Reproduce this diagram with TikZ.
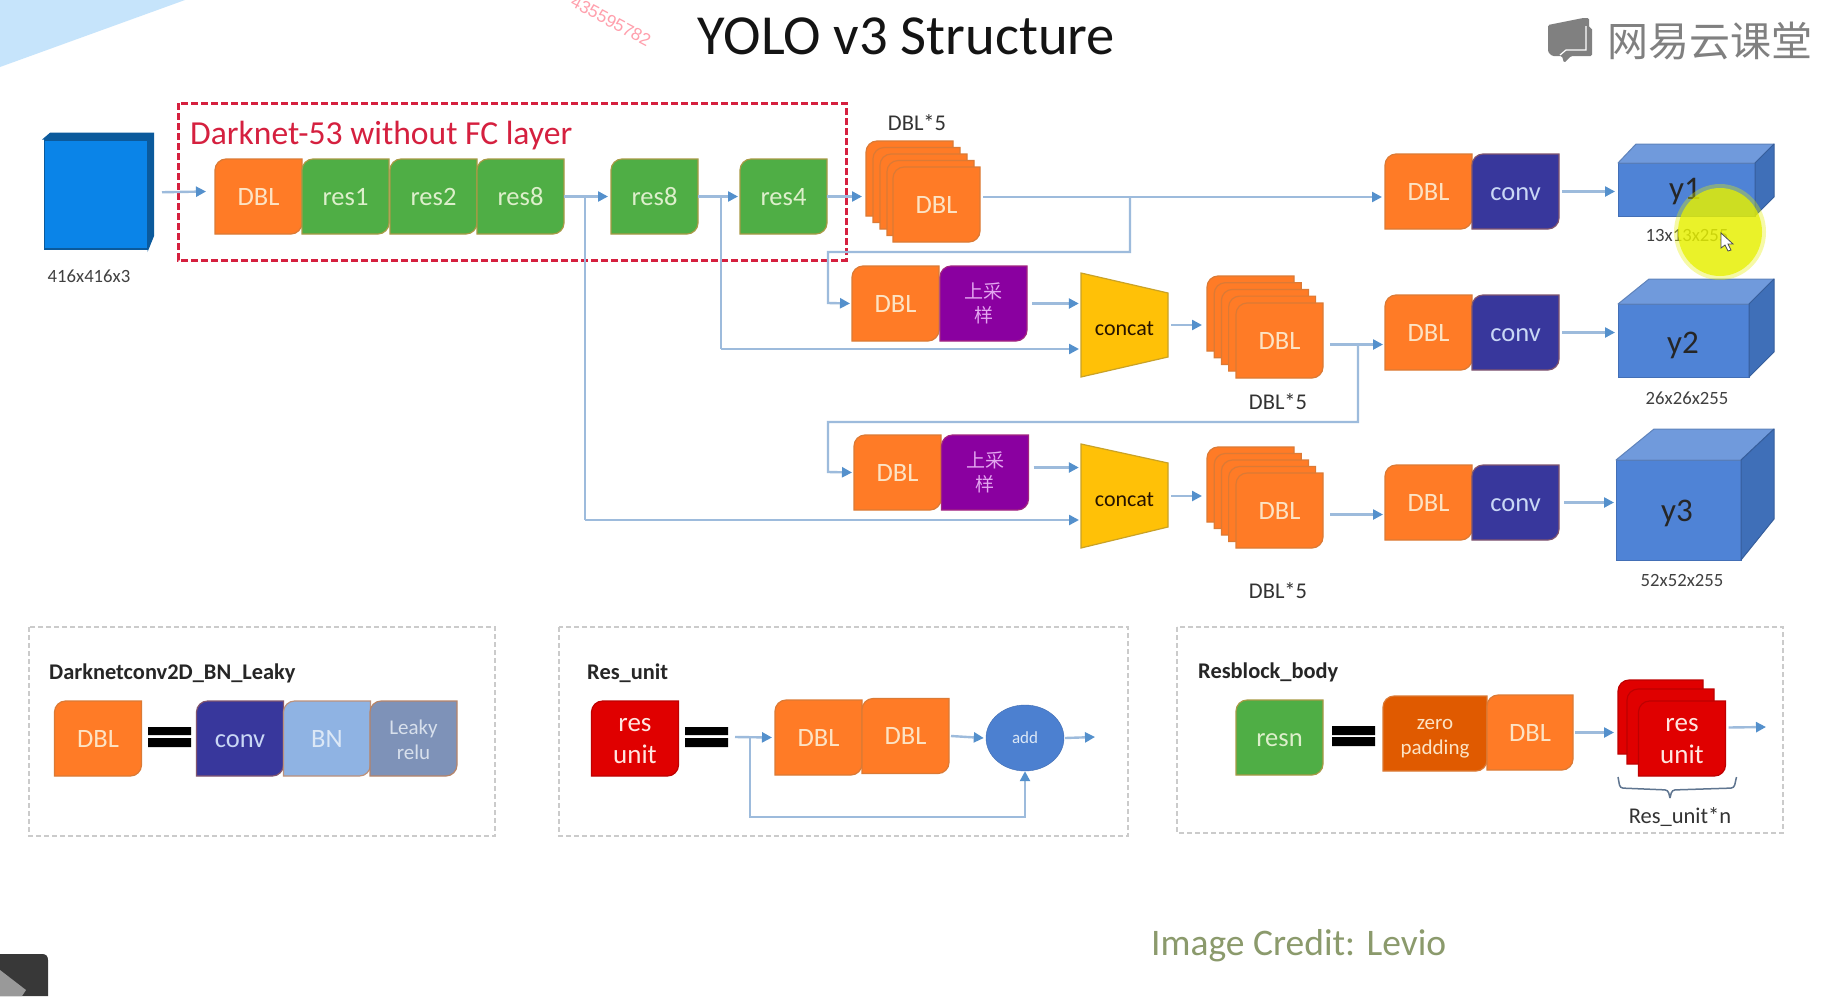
\documentclass[tikz,border=0pt]{standalone}
\usepackage{fontspec}
\setmainfont{Carlito}
\newfontfamily\cjk{Noto Sans CJK SC}
\newfontfamily\wmfont{Liberation Sans}
\usetikzlibrary{arrows.meta,calc,shapes.geometric}
\makeatletter
\pgfdeclareshape{snipbox}{
  \inheritsavedanchors[from=rectangle]
  \inheritanchorborder[from=rectangle]
  \inheritanchor[from=rectangle]{center}
  \inheritanchor[from=rectangle]{north}
  \inheritanchor[from=rectangle]{south}
  \inheritanchor[from=rectangle]{east}
  \inheritanchor[from=rectangle]{west}
  \inheritanchor[from=rectangle]{north east}
  \inheritanchor[from=rectangle]{north west}
  \inheritanchor[from=rectangle]{south east}
  \inheritanchor[from=rectangle]{south west}
  \backgroundpath{
    \southwest \edef\snipxa{\the\pgf@x}\edef\snipya{\the\pgf@y}
    \northeast \edef\snipxb{\the\pgf@x}\edef\snipyb{\the\pgf@y}
    \def\snipr{11pt}\def\snipk{5pt}
    \pgfpathmoveto{\pgfqpoint{\snipxa}{\snipya}}
    \pgfpathlineto{\pgfqpoint{\snipxa}{\dimexpr\snipyb-\snipr\relax}}
    \pgfpathcurveto{\pgfqpoint{\snipxa}{\dimexpr\snipyb-\snipk\relax}}{\pgfqpoint{\dimexpr\snipxa+\snipk\relax}{\snipyb}}{\pgfqpoint{\dimexpr\snipxa+\snipr\relax}{\snipyb}}
    \pgfpathlineto{\pgfqpoint{\snipxb}{\snipyb}}
    \pgfpathlineto{\pgfqpoint{\snipxb}{\dimexpr\snipya+\snipr\relax}}
    \pgfpathcurveto{\pgfqpoint{\snipxb}{\dimexpr\snipya+\snipk\relax}}{\pgfqpoint{\dimexpr\snipxb-\snipk\relax}{\snipya}}{\pgfqpoint{\dimexpr\snipxb-\snipr\relax}{\snipya}}
    \pgfpathclose
  }
}
\makeatother
\definecolor{cOrange}{HTML}{FF7B26}
\definecolor{cOrangeB}{HTML}{DB7A35}
\definecolor{cGreen}{HTML}{4FAE45}
\definecolor{cGreenB}{HTML}{A89A45}
\definecolor{cNavy}{HTML}{38379C}
\definecolor{cBN}{HTML}{8FB3E3}
\definecolor{cLeaky}{HTML}{7E92B8}
\definecolor{cPurple}{HTML}{8A00A0}
\definecolor{cRed}{HTML}{E00000}
\definecolor{cZero}{HTML}{E05A00}
\definecolor{cLine}{HTML}{9DBBDC}
\definecolor{cTip}{HTML}{5490CC}
\definecolor{tCream}{HTML}{FCE3C4}
\definecolor{tGreen}{HTML}{DDEFCB}
\definecolor{tNavy}{HTML}{C9D7F5}
\definecolor{tBN}{HTML}{DCE8F6}
\definecolor{tLeaky}{HTML}{D8E0EC}
\definecolor{tPurple}{HTML}{E3A6F0}
\definecolor{tRed}{HTML}{FFE6E0}
\definecolor{cFront}{HTML}{4F83D6}
\definecolor{cTop}{HTML}{709ADC}
\definecolor{cSide}{HTML}{3F6FB8}
\definecolor{cBgTri}{HTML}{C6E4FB}
\definecolor{cCube}{HTML}{0A84E8}
\definecolor{cCubeD}{HTML}{0B5A9C}
\definecolor{cDash}{HTML}{D5203F}
\definecolor{cConcat}{HTML}{FFC107}
\definecolor{cConcatB}{HTML}{C9A227}
\definecolor{cWm}{HTML}{FFA0AD}
\definecolor{cLogo}{HTML}{808080}
\definecolor{cCredit}{HTML}{8B9A6C}
\definecolor{cHigh}{HTML}{E6F000}
\definecolor{cBrace}{HTML}{5F7590}
\definecolor{cAdd}{HTML}{4C80D0}
\definecolor{cPanel}{HTML}{CBCBCB}
\tikzset{
  x=1pt,y=-1pt,
  blk/.style={shape=snipbox,inner sep=0pt,outer sep=0pt,minimum width=87pt,minimum height=75pt,
    anchor=north west,line width=1.2pt,font=\fontsize{26.5}{31}\selectfont,align=center},
  oneline/.style={text height=17pt,text depth=0pt},
  orangeb/.style={blk,oneline,fill=cOrange,draw=cOrangeB,text=tCream},
  greenb/.style={blk,oneline,fill=cGreen,draw=cGreenB,text=tGreen},
  navyb/.style={blk,oneline,fill=cNavy,draw=cOrangeB!45!cNavy,text=tNavy},
  bnb/.style={blk,oneline,fill=cBN,draw=cOrangeB!60!cBN,text=tBN},
  leakyb/.style={blk,fill=cLeaky,draw=cOrangeB!60!cLeaky,text=tLeaky,font=\fontsize{21}{25}\selectfont},
  purpleb/.style={blk,fill=cPurple,draw=cOrangeB!30!cPurple,text=tPurple,font=\cjk\fontsize{19}{24}\selectfont},
  redb/.style={blk,fill=cRed,draw=cRed!85!black,text=tRed,font=\fontsize{27}{32}\selectfont},
  zerob/.style={blk,fill=cZero,draw=cOrangeB,text=tCream,font=\fontsize{21}{25}\selectfont},
  conn/.style={draw=cLine,line width=2.4pt,-{Triangle[length=10pt,width=10pt,color=cTip]}},
  plain/.style={draw=cLine,line width=2.4pt},
  lbl/.style={text=black!80,font=\fontsize{22.5}{25}\selectfont,inner sep=0pt},
  sizelbl/.style={text=black!75,font=\fontsize{18.7}{22}\selectfont,inner sep=0pt},
  paneltitle/.style={text=black!85,font=\bfseries\fontsize{22.4}{25}\selectfont,anchor=west,inner sep=0pt},
  panelbox/.style={draw=cPanel,line width=1.8pt,dash pattern=on 5pt off 3pt},
  eqbar/.style={fill=black,draw=none},
  cuboidface/.style={fill=#1,draw=#1!85!black,line width=1pt,line join=round},
  front/.style={shape=rectangle,inner sep=0pt,outer sep=0pt,anchor=north west,fill=cFront,draw=cFront!85!black,line width=1pt},
  cubet/.style={text=black!85,font=\fontsize{33}{38}\selectfont,inner sep=0pt},
  concatshape/.style={fill=cConcat,draw=cConcatB,line width=1.2pt},
  concatlbl/.style={shape=rectangle,inner sep=0pt,text=black!85!orange,font=\fontsize{22}{26}\selectfont,minimum width=87pt,minimum height=104pt,text height=20pt,text depth=0pt},
}
\begin{document}
\begin{tikzpicture}
\useasboundingbox (0,0) rectangle (1842,996);
\fill[white] (0,0) rectangle (1842,996);
% corner decoration
\fill[cBgTri] (0,0) -- (185,0) -- (0,67) -- cycle;
\fill[black!78] (0,996) -- (0,954) -- (42,954) .. controls (46,954) and (48,956) .. (48,960) -- (48,996) -- cycle;
\fill[black!40] (0,970) -- (26,990) -- (22,996) -- (0,996) -- cycle;
% watermark
\node[rotate=-28,text=cWm,font=\wmfont\fontsize{17.5}{20}\selectfont,inner sep=0pt] (wm) at (611,21) {435595782};
% title
\node[anchor=base,font=\fontsize{56.6}{60}\selectfont,text=black!92,inner sep=0pt] (title) at (906.5,54) {YOLO v3 Structure};
% logo
\fill[cLogo,rounded corners=1.5pt] (1548,25) -- (1583,18) -- (1589,18) -- (1589,28) -- (1592,28) -- (1592,56) -- (1571,56) -- (1564,63) -- (1562,56) -- (1552,56) -- (1548,52) -- cycle;
\draw[white,line width=1.2pt] (1586,26) -- (1586,50) -- (1566,50) -- (1560,55);
\node[font=\cjk\fontsize{41}{44}\selectfont,text=cLogo,inner sep=0pt] (logo) at (1710,41) {网易云课堂};
% input cube
\node[shape=rectangle,fill=cCube,draw=cCubeD,line width=1.5pt,anchor=north west,inner sep=0pt,minimum width=103pt,minimum height=109pt] (cube) at (43.5,139) {};
\fill[draw=cCubeD,line width=1pt,fill=cCubeD] (cube.north west) -- ++(7,-6) -- ++(103,0) -- ++(0,103) -- (cube.south east) -- (cube.north east) -- cycle;
\node[sizelbl] (cubel) at (89,276) {416x416x3};
% darknet box
\draw[draw=cDash,line width=3pt,dash pattern=on 7pt off 3pt] (178,103) rectangle (846,260);
\node[font=\fontsize{33.6}{38}\selectfont,text=cDash,anchor=west,inner sep=0pt] (dk) at (190,136) {Darknet-53 without FC layer};
% row 1
\node[orangeb] (d0) at (215,159) {DBL};
\node[greenb] (r1) at (302,159) {res1};
\node[greenb] (r2) at (390,159) {res2};
\node[greenb] (r3) at (477,159) {res8};
\node[greenb] (r4) at (611,159) {res8};
\node[greenb] (r5) at (740,159) {res4};
% stack 1
\foreach \i in {0,1,2,3} {\node[orangeb] (sa\i) at ({866+7*\i},{141+6.5*\i}) {};}
\node[orangeb] (sa) at (893,167) {DBL};
\node[lbl] (sal) at (917,123) {DBL*5};
\node[orangeb] (e1) at (1385,154) {DBL};
\node[navyb] (c1) at (1472,154) {conv};
% y1
\node[front,minimum width=137pt,minimum height=53pt] (y1) at (1618,163) {};
\path (y1.north west) ++(18,-19) coordinate (y1a) (y1.north east) ++(19,-19) coordinate (y1b) (y1.south east) ++(19,-19) coordinate (y1c);
\draw[cuboidface=cTop] (y1.north west) -- (y1a) -- (y1b) -- (y1.north east) -- cycle;
\draw[cuboidface=cSide] (y1.north east) -- (y1b) -- (y1c) -- (y1.south east) -- cycle;
\node[cubet] (y1t) at (1685,192) {y1};
\node[sizelbl] (y1l) at (1687,235) {13x13x255};
% row 2 mid
\node[orangeb] (d2) at (852,266) {DBL};
\node[purpleb] (u2) at (940,266) {上采\\样};
\draw[concatshape] (1081,273) -- (1168,293) -- (1168,357) -- (1081,377) -- cycle;
\node[concatlbl] (k2) at (1124.5,325) {concat};
\foreach \i in {0,1,2,3} {\node[orangeb] (sb\i) at ({1207+7.2*\i},{276+6.7*\i}) {};}
\node[orangeb] (sb) at (1236,303) {DBL};
\node[lbl] (sbl) at (1278,401.5) {DBL*5};
\node[orangeb] (e2) at (1385,295) {DBL};
\node[navyb] (c2) at (1472,295) {conv};
\node[front,minimum width=131pt,minimum height=73pt] (y2) at (1618,304) {};
\path (y2.north west) ++(31,-25) coordinate (y2a) (y2.north east) ++(25,-25) coordinate (y2b) (y2.south east) ++(25,-25) coordinate (y2c);
\draw[cuboidface=cTop] (y2.north west) -- (y2a) -- (y2b) -- (y2.north east) -- cycle;
\draw[cuboidface=cSide] (y2.north east) -- (y2b) -- (y2c) -- (y2.south east) -- cycle;
\node[cubet] (y2t) at (1683,345) {y2};
\node[sizelbl] (y2l) at (1687,398.5) {26x26x255};
% row 3
\node[orangeb] (d3) at (854,435) {DBL};
\node[purpleb] (u3) at (941.5,435) {上采\\样};
\draw[concatshape] (1081,444) -- (1168,463) -- (1168,527) -- (1081,548) -- cycle;
\node[concatlbl] (k3) at (1124.5,496) {concat};
\foreach \i in {0,1,2,3} {\node[orangeb] (sc\i) at ({1207+7.2*\i},{447+6.5*\i}) {};}
\node[orangeb] (sc) at (1236,473) {DBL};
\node[lbl] (scl) at (1278,591) {DBL*5};
\node[orangeb] (e3) at (1385,465) {DBL};
\node[navyb] (c3) at (1472,465) {conv};
\node[front,minimum width=125pt,minimum height=100pt] (y3) at (1616,460) {};
\path (y3.north west) ++(38,-31) coordinate (y3a) (y3.north east) ++(33,-31) coordinate (y3b) (y3.south east) ++(33,-41) coordinate (y3c);
\draw[cuboidface=cTop] (y3.north west) -- (y3a) -- (y3b) -- (y3.north east) -- cycle;
\draw[cuboidface=cSide] (y3.north east) -- (y3b) -- (y3c) -- (y3.south east) -- cycle;
\node[cubet] (y3t) at (1677,513) {y3};
\node[sizelbl] (y3l) at (1682,580) {52x52x255};
% connectors top
\draw[conn] ([xshift=14pt,yshift=2pt]cube.east) -- ([xshift=-9pt,yshift=5pt]d0.west);
\coordinate (j1) at (585,197);
\coordinate (j2) at (721,197);
\coordinate (j3) at (1130,197);
\coordinate (j4) at (1358,344);
\draw[conn] (r3.east) -- ([xshift=-3pt]r4.west);
\draw[conn] (r4.east) -- ([xshift=-2pt]r5.west);
\draw[conn] (r5.east) -- ([xshift=-4pt]sa0.west |- r5.east);
\draw[plain] (j1) -- (585,520) coordinate (j1b);
\draw[conn] (j1b) -- (1079,520);
\draw[plain] (j2) -- (721,349) coordinate (j2b);
\draw[conn] (j2b) -- (1079,349);
\draw[conn] ([xshift=3pt]sa.east |- j3) -- ([xshift=-3pt]e1.west |- j3);
\draw[conn] (j3) -- (1130,252) -- (828,252) -- (828,303) -- ([xshift=-2pt]d2.west);
\draw[conn] ([xshift=5pt]u2.east) -- ([xshift=-2pt]k2.west |- u2.east);
\draw[conn] ([xshift=3pt]k2.east) -- ([xshift=-5pt]sb0.west |- k2.east);
\draw[conn] ([xshift=7pt,yshift=-4pt]sb.east) -- ([xshift=-2pt,yshift=-4pt]sb.east -| e2.west);
\draw[conn] (j4) -- (1358,422) -- (828,422) -- (828,472) -- ([xshift=-2pt]d3.west);
\draw[conn] ([xshift=5pt,yshift=5pt]u3.east) -- ([xshift=-2pt,yshift=5pt]u3.east -| k3.west);
\draw[conn] ([xshift=3pt]k3.east) -- ([xshift=-5pt]sc0.west |- k3.east);
\draw[conn] ([xshift=7pt,yshift=-4pt]sc.east) -- ([xshift=-2pt,yshift=-4pt]sc.east -| e3.west);
\draw[conn] ([xshift=3pt]c1.east) -- ([xshift=-3pt]y1.west |- c1.east);
\draw[conn] ([xshift=3pt]c2.east) -- ([xshift=-3pt]y2.west |- c2.east);
\draw[conn] ([xshift=5pt]c3.east) -- ([xshift=-2pt]y3.west |- c3.east);
% highlight
\fill[cHigh,opacity=.35] (1720,232) ellipse[x radius=46,y radius=48];
\fill[cHigh,opacity=.75] (1720,232) ellipse[x radius=42,y radius=44];
\draw[fill=white,draw=black!70,line width=.8pt] (1721,233) -- (1721,248) -- (1725,245) -- (1728,251) -- (1731,250) -- (1728,244) -- (1733,244) -- cycle;
% panel 1
\draw[panelbox] (29,627) rectangle (495,836);
\node[paneltitle] (p1) at (49,673.5) {Darknetconv2D\_BN\_Leaky};
\node[orangeb] (pd) at (54.5,701) {DBL};
\fill[eqbar] (148,727) rectangle (191,735) (148,738) rectangle (191,747);
\node[navyb] (pc) at (196.5,701) {conv};
\node[bnb] (pb) at (283.5,701) {BN};
\node[leakyb,text height=42pt] (pl) at (370,701) {Leaky\\relu};
% panel 2
\draw[panelbox] (559,627) rectangle (1128,836);
\node[paneltitle] (p2) at (587,673.5) {Res\_unit};
\node[redb,text height=51pt] (ru) at (591.5,701) {res\\unit};
\fill[eqbar] (685,727) rectangle (728,735) (685,738) rectangle (728,747);
\node[orangeb] (qd1) at (775,700) {DBL};
\node[orangeb] (qd2) at (862,698.5) {DBL};
\node[shape=ellipse,fill=cAdd,draw=cAdd!85!black,inner sep=0pt,minimum width=78pt,minimum height=66pt,text=tBN,font=\fontsize{17}{20}\selectfont] (add) at (1025,738) {add};
\coordinate (q0) at (735,737);
\coordinate (q1) at (750,737);
\coordinate (q2) at (1095,737);
\draw[conn] (q0) -- ([xshift=-3pt]qd1.west);
\draw[conn] ([xshift=2pt]qd2.east) -- ([xshift=-2pt]add.west);
\draw[conn] ([xshift=1pt]add.east) -- (q2);
\draw[conn] (q1) -- (750,817) -- (1025,817) -- (add.south);
% panel 3
\draw[panelbox] (1177,627) rectangle (1783,833);
\node[paneltitle] (p3) at (1198,672.5) {Resblock\_body};
\node[greenb] (rn) at (1236,700) {resn};
\fill[eqbar] (1332,726) rectangle (1375,735) (1332,737) rectangle (1375,746);
\node[zerob,minimum width=104pt,text height=45pt] (zp) at (1383,696) {zero\\padding};
\node[orangeb,minimum width=86pt] (zd) at (1487,695) {DBL};
\node[redb,minimum width=85pt,minimum height=74pt] (ub) at (1618,680) {};
\node[redb,minimum width=87pt,minimum height=75pt] (um) at (1627,689) {};
\node[redb,text height=51pt] (uf) at (1638.5,701) {res\\unit};
\coordinate (z2) at (1766,727);
\draw[conn] ([xshift=2pt]zd.east) -- ([xshift=-4pt]ub.west |- zd.east);
\draw[conn] ([xshift=3pt,yshift=11pt]uf.east) -- (z2);
\coordinate (br0) at (1618,777);
\coordinate (br1) at (1736.5,777);
\coordinate (brt) at (1670,798);
\draw[draw=cBrace,line width=1.5pt,rounded corners=3pt] (br0) -- (1620,788) -- (1668,790) -- (brt);
\draw[draw=cBrace,line width=1.5pt,rounded corners=3pt] (brt) -- (1672,790) -- (1734,788) -- (br1);
\node[lbl] (rl) at (1680,817) {Res\_unit*n};
% credit
\node[font=\fontsize{37.5}{42}\selectfont,text=cCredit,anchor=west,inner sep=0pt] (cr) at (1151,946) {Image Credit: Levio};
\end{tikzpicture}
\end{document}
